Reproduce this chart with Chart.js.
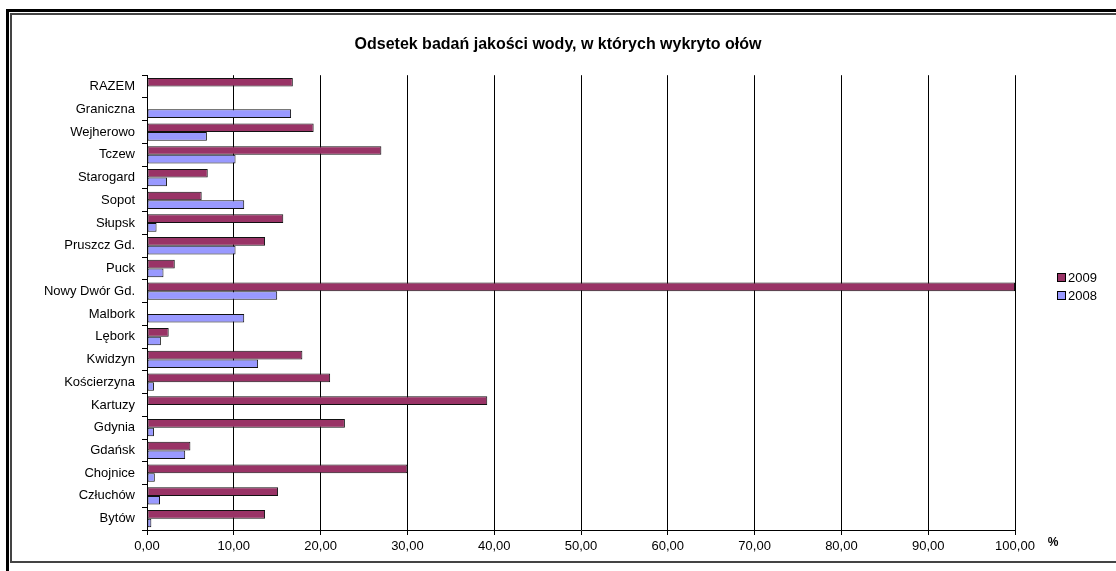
<!DOCTYPE html>
<html lang="pl">
<head>
<meta charset="UTF-8">
<title>Odsetek badań jakości wody</title>
<script src="https://cdn.jsdelivr.net/npm/chart.js@4/dist/chart.umd.min.js"></script>
<style>
  html, body { margin: 0; padding: 0; background: #fff; }
  #wrap { width: 1116px; height: 571px; }
</style>
</head>
<body>
<div id="wrap"><canvas id="chart" width="1116" height="571"></canvas></div>
<script>
  const labels = ["RAZEM", "Graniczna", "Wejherowo", "Tczew", "Starogard", "Sopot", "Słupsk",
    "Pruszcz Gd.", "Puck", "Nowy Dwór Gd.", "Malbork", "Lębork", "Kwidzyn", "Kościerzyna",
    "Kartuzy", "Gdynia", "Gdańsk", "Chojnice", "Człuchów", "Bytów"];
  const values2009 = [16.8, 0, 19.2, 27.0, 7.0, 6.3, 15.7, 13.6, 3.2, 100, 0, 2.5, 17.9, 21.1,
    39.2, 22.8, 5.0, 30.0, 15.1, 13.6];
  const values2008 = [0, 16.6, 6.9, 10.2, 2.3, 11.2, 1.1, 10.2, 1.9, 15.0, 11.2, 1.6, 12.8, 0.8,
    0, 0.8, 4.4, 0.9, 1.5, 0.5];
  const xTicks = [0, 10, 20, 30, 40, 50, 60, 70, 80, 90, 100];

  const FONT = "'Liberation Sans', Arial, sans-serif";

  // white background + the double frame round the picture
  const frame = {
    id: 'frame',
    beforeDraw(chart) {
      const c = chart.ctx;
      c.save();
      c.fillStyle = '#fff';
      c.fillRect(0, 0, chart.width, chart.height);
      c.fillStyle = '#000';
      c.fillRect(6, 9, chart.width - 6, 3);
      c.fillRect(6, 9, 3, chart.height - 9);
      c.fillStyle = '#444';
      c.fillRect(10, 13, chart.width - 10, 2);
      c.fillRect(10, 13, 2, 550);
      c.fillRect(10, 561, chart.width - 10, 2);
      c.restore();
    },
    afterDraw(chart) {
      const c = chart.ctx;
      c.save();
      // legend
      chart.data.datasets.forEach((ds, i) => {
        const y = 273 + i * 18;
        c.fillStyle = ds.backgroundColor;
        c.fillRect(1057, y, 8, 8);
        c.strokeStyle = '#000';
        c.lineWidth = 1;
        c.strokeRect(1057.5, y + 0.5, 8, 8);
        c.fillStyle = '#000';
        c.font = '13px ' + FONT;
        c.textBaseline = 'middle';
        c.textAlign = 'left';
        c.fillText(ds.label, 1068, y + 5);
      });
      // unit
      c.font = 'bold 12px ' + FONT;
      c.textAlign = 'center';
      c.fillText('%', 1053, 543);
      c.restore();
    }
  };

  new Chart(document.getElementById('chart'), {
    type: 'bar',
    data: {
      labels: labels,
      datasets: [
        { label: '2009', data: values2009, backgroundColor: '#993366', borderColor: '#111', borderWidth: 1 },
        { label: '2008', data: values2008, backgroundColor: '#9999FF', borderColor: '#111', borderWidth: 1 }
      ]
    },
    options: {
      indexAxis: 'y',
      responsive: false,
      animation: false,
      datasets: { bar: { categoryPercentage: 0.76, barPercentage: 1.0, borderSkipped: false } },
      layout: { padding: 0 },
      plugins: {
        legend: { display: false },
        tooltip: { enabled: false },
        title: {
          display: true,
          text: 'Odsetek badań jakości wody, w których wykryto ołów',
          color: '#000',
          font: { family: FONT, size: 16, weight: 'bold' },
          padding: { top: 35, bottom: 21 }
        }
      },
      scales: {
        x: {
          min: 0, max: 100,
          afterBuildTicks: s => { s.ticks = xTicks.map(v => ({ value: v })); },
          afterFit: s => { s.height = 41; },
          ticks: {
            color: '#000',
            font: { family: FONT, size: 13 },
            padding: 4,
            maxRotation: 0,
            callback: v => v.toFixed(2).replace('.', ',')
          },
          grid: { color: '#000', lineWidth: 1, tickLength: 5 },
          border: { color: '#000' }
        },
        y: {
          afterFit: s => { s.width = 147; },
          ticks: {
            color: '#000',
            font: { family: FONT, size: 13 },
            padding: 7
          },
          grid: { offset: true, drawOnChartArea: false, color: '#000', tickLength: 5 },
          border: { color: '#000' }
        },
        y2: {
          type: 'category',
          position: 'right',
          afterFit: s => { s.width = 101; },
          ticks: { display: false },
          grid: { display: false },
          border: { display: false }
        }
      }
    },
    plugins: [frame]
  });
</script>
</body>
</html>
